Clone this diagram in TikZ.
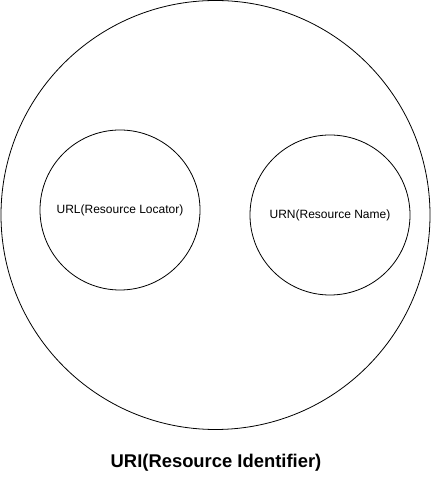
\documentclass[tikz,border=0pt]{standalone}
\usepackage{fontspec}
\setmainfont{Liberation Sans}
\usepackage{tikz}
\usetikzlibrary{arrows}

\begin{document}
\begin{tikzpicture}[x=1pt, y=1pt, line width=0.8pt,
  set/.style={draw, circle, inner sep=0pt}]
  \useasboundingbox (0, 0) rectangle (431, 486);
  \node [set, minimum size=429pt] (URI) at (215.5, 271) {};
  \node [set, minimum size=160pt, font=\fontsize{12}{14}\selectfont] (URL) at (120, 276) {URL(Resource Locator)};
  \node [set, minimum size=160pt, font=\fontsize{12}{14}\selectfont] (URN) at (330, 271) {URN(Resource Name)};
  \node [font=\fontsize{18.4}{22}\selectfont\bfseries] (URIname) at (216, 23) {URI(Resource Identifier)};
\end{tikzpicture}
\end{document}
